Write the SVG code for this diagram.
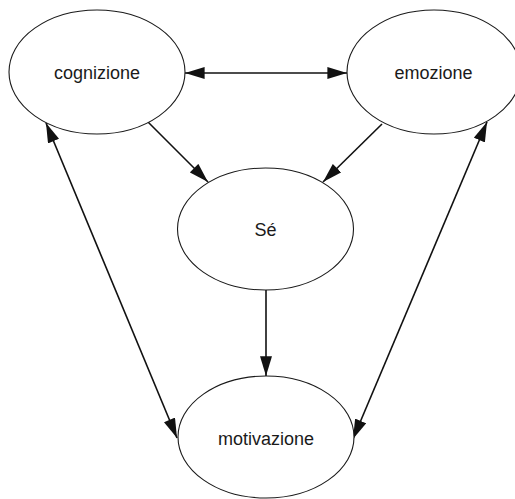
<svg xmlns="http://www.w3.org/2000/svg" width="515" height="499" viewBox="0 0 515 499">
  <defs>
    <style>
      .node ellipse { fill: #ffffff; stroke: #1a1a1a; stroke-width: 1.1; }
      .node text { font-family: "Liberation Sans", Arial, sans-serif; font-size: 18px; fill: #1a1a1a; text-anchor: middle; }
      .edges line { stroke: #111111; stroke-width: 1.6; fill: none; }
    </style>
    <marker id="arrow" markerUnits="userSpaceOnUse" markerWidth="20" markerHeight="12"
            viewBox="0 0 18 11" refX="18" refY="5.5" orient="auto-start-reverse">
      <path d="M0,0 L18,5.5 L0,11 Z" fill="#111111"/>
    </marker>
  </defs>

  <rect width="515" height="499" fill="#ffffff"/>

  <g class="edges">
    <line x1="185" y1="73" x2="347" y2="73" marker-start="url(#arrow)" marker-end="url(#arrow)"/>
    <line x1="148" y1="122" x2="208" y2="182" marker-end="url(#arrow)"/>
    <line x1="382" y1="124" x2="323" y2="182" marker-end="url(#arrow)"/>
    <line x1="266" y1="290" x2="266" y2="376" marker-end="url(#arrow)"/>
    <line x1="46" y1="123" x2="177" y2="438" marker-start="url(#arrow)" marker-end="url(#arrow)"/>
    <line x1="487" y1="122" x2="353" y2="439" marker-start="url(#arrow)" marker-end="url(#arrow)"/>
  </g>

  <g id="cognizione" class="node">
    <ellipse cx="97" cy="72" rx="88" ry="62"/>
    <text x="97" y="79">cognizione</text>
  </g>
  <g id="emozione" class="node">
    <ellipse cx="434" cy="72" rx="87" ry="62"/>
    <text x="433.5" y="79">emozione</text>
  </g>
  <g id="se" class="node">
    <ellipse cx="265.5" cy="229" rx="88" ry="61"/>
    <text x="265.5" y="236">Sé</text>
  </g>
  <g id="motivazione" class="node">
    <ellipse cx="266" cy="437" rx="88" ry="61"/>
    <text x="266" y="445">motivazione</text>
  </g>
</svg>
